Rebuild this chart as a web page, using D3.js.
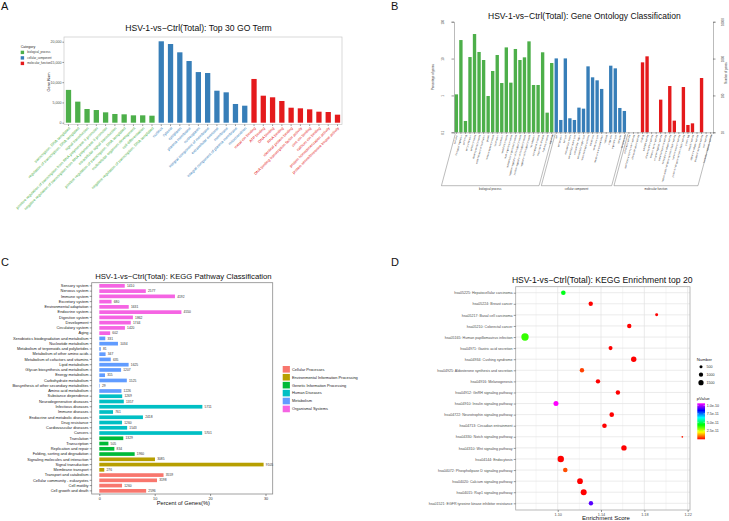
<!DOCTYPE html>
<html><head><meta charset="utf-8">
<script src="https://cdn.jsdelivr.net/npm/d3@7"></script>
<style>
html,body{margin:0;padding:0;background:#fff;}
svg{display:block;font-family:"Liberation Sans",Arial,Helvetica,sans-serif;}
</style></head><body>
<svg id="chart" width="729" height="521"></svg>
<script>
// ================= DATA =================
// Panel A: Top 30 GO terms
const goCategoryNames = ["biological_process","cellular_component","molecular_function"];
const goTerms = [
 "transcription, DNA-templated","regulation of transcription, DNA-templated","signal transduction",
 "positive regulation of transcription from RNA polymerase II promoter",
 "negative regulation of transcription from RNA polymerase II promoter",
 "intracellular signal transduction","positive regulation of transcription, DNA-templated",
 "multicellular organism development","cell differentiation","negative regulation of transcription, DNA-templated",
 "nucleus","cytosol","cytoplasm","plasma membrane","nucleoplasm","integral component of membrane",
 "extracellular exosome","membrane","integral component of plasma membrane","mitochondrion",
 "metal ion binding","ATP binding","DNA binding","RNA binding","identical protein binding",
 "DNA binding transcription factor activity","zinc ion binding","calcium ion binding",
 "protein homodimerization activity","protein serine/threonine kinase activity"];
const goCategory = [
 "biological_process","biological_process","biological_process","biological_process","biological_process",
 "biological_process","biological_process","biological_process","biological_process","biological_process",
 "cellular_component","cellular_component","cellular_component","cellular_component","cellular_component",
 "cellular_component","cellular_component","cellular_component","cellular_component","cellular_component",
 "molecular_function","molecular_function","molecular_function","molecular_function","molecular_function",
 "molecular_function","molecular_function","molecular_function","molecular_function","molecular_function"];
const goGeneNum = [8100,5200,3380,3130,2560,2150,2070,1820,1820,1730,
 20100,19430,17380,15230,12500,12270,7900,7500,4620,4200,
 10800,6670,6270,5360,3700,3550,3300,2720,2640,1980];
const goYTicks = [0,5000,10000,15000,20000];

// Panel B: GO classification (level 2)
const classGroupNames = ["biological process","cellular component","molecular function"];
const classTerms = [
 "behavior","biological regulation","cell killing","cell proliferation","cellular process",
 "developmental process","establishment of localization","growth","immune system process","localization",
 "locomotion","metabolic process","multi-organism process","multicellular organismal process",
 "negative regulation of biological process","positive regulation of biological process",
 "regulation of biological process","reproduction","reproductive process","response to stimulus",
 "rhythmic process","signaling",
 "cell","cell junction","cell part","extracellular matrix","extracellular matrix part","extracellular region",
 "extracellular region part","macromolecular complex","membrane","membrane part","membrane-enclosed lumen",
 "nucleoid","organelle","organelle part","synapse","synapse part",
 "antioxidant activity","auxiliary transport protein activity","chemoattractant activity","binding",
 "catalytic activity","chemorepellent activity","electron carrier activity","enzyme regulator activity",
 "metallochaperone activity","molecular transducer activity","nucleic acid binding transcription factor activity",
 "nutrient reservoir activity","protein binding transcription factor activity","protein tag","receptor activity",
 "signal transducer activity","structural molecule activity","toxin activity","translation regulator activity"];
const classGroup = [
 "biological process","biological process","biological process","biological process","biological process",
 "biological process","biological process","biological process","biological process","biological process",
 "biological process","biological process","biological process","biological process","biological process",
 "biological process","biological process","biological process","biological process","biological process",
 "biological process","biological process",
 "cellular component","cellular component","cellular component","cellular component","cellular component",
 "cellular component","cellular component","cellular component","cellular component","cellular component",
 "cellular component","cellular component","cellular component","cellular component","cellular component",
 "cellular component",
 "molecular function","molecular function","molecular function","molecular function","molecular function",
 "molecular function","molecular function","molecular function","molecular function","molecular function",
 "molecular function","molecular function","molecular function","molecular function","molecular function",
 "molecular function","molecular function","molecular function","molecular function"];
const classPercent = [1.07,31.8,0.203,11.0,46.3,15.1,9.14,0.966,4.60,12.5,2.17,20.1,2.22,18.2,9.14,10.8,29.3,1.92,1.92,14.8,0.341,7.58,
 10.1,0.216,10.1,0.240,0.216,0.467,0.438,6.15,3.10,2.57,1.50,0,6.41,5.43,0.457,0.379,
 0,0,0,7.90,11.5,0,0,0.769,0,1.80,0.207,0,1.69,0.158,0.175,0,2.97,0,0];
const classLeftTicks = [0.1,1,10,100];
const classRightTicks = [10,100,1000,10000];

// Panel C: KEGG pathway classification
const keggClassNames = ["Cellular Processes","Environmental Information Processing","Genetic Information Processing","Human Diseases","Metabolism","Organismal Systems"];
const keggPathways = ["Sensory system","Nervous system","Immune system","Excretory system","Environmental adaptation",
 "Endocrine system","Digestive system","Development","Circulatory system","Aging",
 "Xenobiotics biodegradation and metabolism","Nucleotide metabolism","Metabolism of terpenoids and polyketides",
 "Metabolism of other amino acids","Metabolism of cofactors and vitamins","Lipid metabolism",
 "Glycan biosynthesis and metabolism","Energy metabolism","Carbohydrate metabolism",
 "Biosynthesis of other secondary metabolites","Amino acid metabolism",
 "Substance dependence","Neurodegenerative diseases","Infectious diseases","Immune diseases",
 "Endocrine and metabolic diseases","Drug resistance","Cardiovascular diseases","Cancers",
 "Translation","Transcription","Replication and repair","Folding, sorting and degradation",
 "Signaling molecules and interaction","Signal transduction","Membrane transport",
 "Transport and catabolism","Cellular community - eukaryotes","Cell motility","Cell growth and death"];
const keggClass = [
 "Organismal Systems","Organismal Systems","Organismal Systems","Organismal Systems","Organismal Systems",
 "Organismal Systems","Organismal Systems","Organismal Systems","Organismal Systems","Organismal Systems",
 "Metabolism","Metabolism","Metabolism","Metabolism","Metabolism","Metabolism","Metabolism","Metabolism",
 "Metabolism","Metabolism","Metabolism",
 "Human Diseases","Human Diseases","Human Diseases","Human Diseases","Human Diseases","Human Diseases",
 "Human Diseases","Human Diseases",
 "Genetic Information Processing","Genetic Information Processing","Genetic Information Processing","Genetic Information Processing",
 "Environmental Information Processing","Environmental Information Processing","Environmental Information Processing",
 "Cellular Processes","Cellular Processes","Cellular Processes","Cellular Processes"];
const keggCounts = [1410,2577,4192,680,1631,4550,1862,1744,1420,602,
 331,1034,81,347,635,1625,1207,315,1525,29,1226,
 1269,1357,5711,761,2418,1260,1543,5701,
 1329,505,834,1960,
 3085,9105,276,
 3559,3198,1260,2596];
const keggTotal = 30700;
const keggXTicks = [0,10,20,30];

// Panel D: KEGG enrichment top 20
const enrichTerms = ["hsa05225: Hepatocellular carcinoma","hsa05224: Breast cancer","hsa05217: Basal cell carcinoma",
 "hsa05210: Colorectal cancer","hsa05165: Human papillomavirus infection","hsa04971: Gastric acid secretion",
 "hsa04934: Cushing syndrome","hsa04925: Aldosterone synthesis and secretion","hsa04916: Melanogenesis",
 "hsa04912: GnRH signaling pathway","hsa04910: Insulin signaling pathway","hsa04722: Neurotrophin signaling pathway",
 "hsa04713: Circadian entrainment","hsa04330: Notch signaling pathway","hsa04310: Wnt signaling pathway",
 "hsa04144: Endocytosis","hsa04072: Phospholipase D signaling pathway","hsa04020: Calcium signaling pathway",
 "hsa04015: Rap1 signaling pathway","hsa01521: EGFR tyrosine kinase inhibitor resistance"];
const enrichScore = [1.1052,1.1305,1.1914,1.1661,1.0698,1.1488,1.1702,1.1224,1.1372,1.1556,
 1.0984,1.1499,1.1432,1.2151,1.1612,1.1028,1.1070,1.1206,1.1240,1.1307];
const enrichNumber = [1160,1060,490,1060,2950,880,1600,1060,1060,1060,1370,1160,1160,160,1600,2240,1160,1780,1970,1060];
const enrichPvalue = [4.45e-11,8e-14,3e-15,5e-14,3.8e-11,2e-15,1e-14,5.3e-12,4e-14,6e-15,
 1.06e-10,2e-14,3e-14,2.1e-12,1e-15,7e-14,6.4e-12,9e-15,4e-15,9.2e-11];
const enrichXTicks = [1.10,1.14,1.18,1.22];
const enrichXMinor = [1.08,1.12,1.16,1.20];
const sizeBreaks = [500,1000,1500];
const pvalueTicks = [2.5e-11,5.0e-11,7.5e-11,1.0e-10];

// ================= DRAWING =================
const svg = d3.select("#chart");
svg.append("rect").attr("width",729).attr("height",521).attr("fill","#fff");

function fitText(t, w){
  const L = t.node().getComputedTextLength();
  const fs = parseFloat(t.attr("font-size"));
  if (L>0) t.attr("font-size", fs*w/L);
}
function styleAxis(g, fs, fill){
  g.selectAll("text").attr("font-size",fs).attr("fill",fill).attr("font-family",null);
  g.selectAll(".tick line").attr("stroke","#333").attr("stroke-width",0.5);
}

// panel letters
svg.selectAll("text.letter").data([["A",1,10],["B",391,10],["C",1,266],["D",391,266]]).join("text")
  .attr("class","letter").attr("x",d=>d[1]).attr("y",d=>d[2]).attr("font-size",11).attr("fill","#111").text(d=>d[0]);

// ---------- Panel A ----------
(function(){
  const aL=64,aR=342,aT=37,aB=124.5;
  const g = svg.append("g");
  const xA = d3.scaleBand().domain(goTerms).range([aL,aR]).paddingInner(0.43).paddingOuter(0.2);
  const yA = d3.scaleLinear().domain([0,20000]).range([122.7,41.7]);
  const colA = d3.scaleOrdinal().domain(goCategoryNames).range(["#4DAF4A","#377EB8","#E41A1C"]);

  const t = g.append("text").attr("x",198.5).attr("y",31.3).attr("text-anchor","middle")
    .attr("font-size",9).attr("fill","#111").text("HSV-1-vs\u2212Ctrl(Total): Top 30 GO Term");
  fitText(t,147);

  g.append("rect").attr("x",aL).attr("y",aT).attr("width",aR-aL).attr("height",aB-aT)
    .attr("fill","none").attr("stroke","#c8c8c8").attr("stroke-width",0.7);

  g.selectAll("rect.bar").data(goTerms).join("rect").attr("class","bar")
    .attr("x",d=>xA(d)).attr("width",xA.bandwidth())
    .attr("y",(d,i)=>yA(goGeneNum[i])).attr("height",(d,i)=>yA(0)-yA(goGeneNum[i]))
    .attr("fill",(d,i)=>colA(goCategory[i]));

  const ay = g.append("g").attr("transform",`translate(${aL},0)`)
    .call(d3.axisLeft(yA).tickValues(goYTicks).tickSize(1.6).tickPadding(1));
  ay.select(".domain").remove();
  styleAxis(ay,3.6,"#4d4d4d");

  const ax = g.append("g").attr("transform",`translate(0,${aB})`)
    .call(d3.axisBottom(xA).tickSize(1.5));
  ax.select(".domain").remove();
  styleAxis(ax,3.8,"#333");
  ax.selectAll(".tick text").attr("x",0).attr("y",0).attr("dy","0.35em")
    .attr("transform","translate(1,3) rotate(-45)").attr("text-anchor","end")
    .attr("fill",(d,i)=>colA(goCategory[goTerms.indexOf(d)]));

  g.append("text").attr("transform","translate(49.5,82) rotate(-90)").attr("text-anchor","middle")
    .attr("font-size",3.9).attr("fill","#222").text("Gene Num");

  // legend
  g.append("text").attr("x",20.7).attr("y",48).attr("font-size",3.6).attr("fill","#222").text("Category");
  const lg = g.selectAll("g.lg").data(goCategoryNames).join("g").attr("class","lg")
    .attr("transform",(d,i)=>`translate(20.7,${50.7+i*5.5})`);
  lg.append("rect").attr("width",3.4).attr("height",3.4).attr("fill",d=>colA(d));
  lg.append("text").attr("x",6.6).attr("y",1.7).attr("dy","0.35em").attr("font-size",2.8).attr("fill","#333").text(d=>d);
})();

// ---------- Panel B ----------
(function(){
  const bL=454,bR=713,bT=21.7,bB=132.3;
  const g = svg.append("g");
  const xB = d3.scaleBand().domain(classTerms).range([bL,bR]).paddingInner(0.26).paddingOuter(0.15);
  const yB = d3.scaleLog().domain([0.1,100]).range([bB,bT]);
  const yBR = d3.scaleLog().domain([10,10000]).range([bB,bT]);
  const colB = d3.scaleOrdinal().domain(classGroupNames).range(["#4DAF4A","#377EB8","#E41A1C"]);

  const t = g.append("text").attr("x",584.4).attr("y",18.7).attr("text-anchor","middle")
    .attr("font-size",9).attr("fill","#111").text("HSV-1-vs\u2212Ctrl(Total): Gene Ontology Classification");
  fitText(t,193);

  const idx = classTerms.map((d,i)=>i).filter(i=>classPercent[i]>0);
  g.selectAll("rect.bar").data(idx).join("rect").attr("class","bar")
    .attr("x",i=>xB(classTerms[i])).attr("width",xB.bandwidth())
    .attr("y",i=>yB(classPercent[i])).attr("height",i=>bB-yB(classPercent[i]))
    .attr("fill",i=>colB(classGroup[i]));

  const al = g.append("g").attr("transform",`translate(${bL},0)`)
    .call(d3.axisLeft(yB).tickValues(classLeftTicks).tickFormat(d=>String(d)).tickSize(2.5).tickPadding(8));
  al.select(".domain").attr("stroke","#777").attr("stroke-width",0.5);
  styleAxis(al,2.8,"#444");
  al.selectAll(".tick text").attr("text-anchor","middle").attr("dy",0)
    .attr("transform",function(){const x=+d3.select(this).attr("x");return `rotate(-90,${x},0)`;});

  const ar = g.append("g").attr("transform",`translate(${bR},0)`)
    .call(d3.axisRight(yBR).tickValues(classRightTicks).tickFormat(d=>String(d)).tickSize(2.5).tickPadding(8));
  ar.select(".domain").attr("stroke","#777").attr("stroke-width",0.5);
  styleAxis(ar,2.8,"#444");
  ar.selectAll(".tick text").attr("text-anchor","middle").attr("dy",0)
    .attr("transform",function(){const x=+d3.select(this).attr("x");return `rotate(-90,${x},0)`;});

  const ax = g.append("g").attr("transform",`translate(0,${bB})`)
    .call(d3.axisBottom(xB).tickSize(1.5));
  ax.select(".domain").attr("stroke","#777").attr("stroke-width",0.5);
  styleAxis(ax,2.4,"#333");
  ax.selectAll(".tick text").attr("x",0).attr("y",0).attr("dy","0.35em")
    .attr("transform","translate(0.6,2.6) rotate(-75)").attr("text-anchor","end");

  g.append("text").attr("transform","translate(434,77) rotate(-90)").attr("text-anchor","middle")
    .attr("font-size",2.8).attr("fill","#333").text("Percentage of genes");
  g.append("text").attr("transform","translate(727,73) rotate(-90)").attr("text-anchor","middle")
    .attr("font-size",2.8).attr("fill","#333").text("Number of genes");

  // group brackets
  const top=134.2, bot=185.7, dx=-(bot-top)/Math.tan(75*Math.PI/180);
  classGroupNames.forEach(name=>{
    const members = classTerms.filter((d,i)=>classGroup[i]===name);
    const x0 = xB(members[0]) - xB.step()*0.1 + 1;
    const x1 = xB(members[members.length-1]) + xB.bandwidth() + xB.step()*0.1 - 1;
    g.append("path").attr("d",`M${x0},${top}L${x0+dx},${bot}L${x1+dx},${bot}L${x1},${top}`)
      .attr("fill","none").attr("stroke","#555").attr("stroke-width",0.4);
    g.append("text").attr("x",(x0+x1)/2+dx).attr("y",190.2).attr("text-anchor","middle")
      .attr("font-size",2.8).attr("fill","#333").text(name);
  });
})();

// ---------- Panel C ----------
(function(){
  const cL=91.7,cR=272.7,cT=282.7,cB=494;
  const g = svg.append("g");
  const yC = d3.scaleBand().domain(keggPathways).range([cT,cB]).paddingInner(0.3).paddingOuter(0.25);
  const xC = d3.scaleLinear().domain([0,30]).range([99.3,265.5]);
  const colC = d3.scaleOrdinal().domain(keggClassNames).range(["#F8766D","#B79F00","#00BA38","#00BFC4","#619CFF","#F564E3"]);
  const pct = keggCounts.map(c=>c/keggTotal*100);

  const t = g.append("text").attr("x",183.4).attr("y",279).attr("text-anchor","middle")
    .attr("font-size",9).attr("fill","#111").text("HSV-1-vs\u2212Ctrl(Total): KEGG Pathway Classification");
  fitText(t,177);

  g.append("rect").attr("x",cL).attr("y",cT).attr("width",cR-cL).attr("height",cB-cT)
    .attr("fill","none").attr("stroke","#8a8a8a").attr("stroke-width",0.8);

  g.selectAll("rect.bar").data(keggPathways).join("rect").attr("class","bar")
    .attr("x",xC(0)).attr("y",d=>yC(d)).attr("height",yC.bandwidth())
    .attr("width",(d,i)=>xC(pct[i])-xC(0)).attr("fill",(d,i)=>colC(keggClass[i]));

  g.selectAll("text.val").data(keggPathways).join("text").attr("class","val")
    .attr("x",(d,i)=>xC(pct[i])+2.2).attr("y",d=>yC(d)+yC.bandwidth()/2).attr("dy","0.35em")
    .attr("font-size",3.3).attr("fill","#333").text((d,i)=>keggCounts[i]);

  const ay = g.append("g").attr("transform",`translate(${cL},0)`)
    .call(d3.axisLeft(yC).tickSize(2).tickPadding(1.2));
  ay.select(".domain").remove();
  styleAxis(ay,3.9,"#1a1a1a");

  const ax = g.append("g").attr("transform",`translate(0,${cB})`)
    .call(d3.axisBottom(xC).tickValues(keggXTicks).tickSize(2).tickPadding(1.2));
  ax.select(".domain").remove();
  styleAxis(ax,3.8,"#333");

  const xt = g.append("text").attr("x",183.3).attr("y",505.4).attr("text-anchor","middle")
    .attr("font-size",6).attr("fill","#111").text("Percent of Genes(%)");
  fitText(xt,53.3);

  const lg = g.selectAll("g.lg").data(keggClassNames).join("g").attr("class","lg")
    .attr("transform",(d,i)=>`translate(282.7,${366+i*7.93})`);
  lg.append("rect").attr("width",7.2).attr("height",6.6).attr("fill",d=>colC(d));
  lg.append("text").attr("x",9.3).attr("y",3.3).attr("dy","0.35em").attr("font-size",3.9).attr("fill","#222").text(d=>d);
})();

// ---------- Panel D ----------
(function(){
  const dL=515.7,dR=690,dT=286.7,dB=510;
  const g = svg.append("g");
  const xD = d3.scaleLinear().domain([1.0612,1.2222]).range([dL,dR]);
  const yD = d3.scalePoint().domain(enrichTerms).range([292.7,503.3]);
  const pExt = d3.extent(enrichPvalue);
  const stops = ["#FF0000","#FFFF00","#00FF00","#00FFFF","#0000FF","#FF00FF"];
  const colD = d3.scaleLinear().domain(stops.map((s,i)=>pExt[0]+(pExt[1]-pExt[0])*i/(stops.length-1))).range(stops);
  const rD = d3.scaleSqrt().domain([0,3000]).range([0,3.7]);

  const t = g.append("text").attr("x",602.2).attr("y",283).attr("text-anchor","middle")
    .attr("font-size",9).attr("fill","#111").text("HSV-1-vs\u2212Ctrl(Total): KEGG Enrichment top 20");
  fitText(t,181);

  // grid
  g.selectAll("line.minor").data(enrichXMinor).join("line").attr("class","minor")
    .attr("x1",d=>xD(d)).attr("x2",d=>xD(d)).attr("y1",dT).attr("y2",dB)
    .attr("stroke","#ededed").attr("stroke-width",0.5);
  g.selectAll("line.major").data(enrichXTicks).join("line").attr("class","major")
    .attr("x1",d=>xD(d)).attr("x2",d=>xD(d)).attr("y1",dT).attr("y2",dB)
    .attr("stroke","#e3e3e3").attr("stroke-width",0.7);
  g.selectAll("line.hy").data(enrichTerms).join("line").attr("class","hy")
    .attr("x1",dL).attr("x2",dR).attr("y1",d=>yD(d)).attr("y2",d=>yD(d))
    .attr("stroke","#e3e3e3").attr("stroke-width",0.7);
  g.append("rect").attr("x",dL).attr("y",dT).attr("width",dR-dL).attr("height",dB-dT)
    .attr("fill","none").attr("stroke","#a8a8a8").attr("stroke-width",0.8);

  g.selectAll("circle.pt").data(enrichTerms).join("circle").attr("class","pt")
    .attr("cx",(d,i)=>xD(enrichScore[i])).attr("cy",d=>yD(d))
    .attr("r",(d,i)=>rD(enrichNumber[i])).attr("fill",(d,i)=>colD(enrichPvalue[i]));

  const ay = g.append("g").attr("transform",`translate(${dL},0)`)
    .call(d3.axisLeft(yD).tickSize(2).tickPadding(1.2));
  ay.select(".domain").remove();
  styleAxis(ay,3.6,"#4d4d4d");

  const ax = g.append("g").attr("transform",`translate(0,${dB})`)
    .call(d3.axisBottom(xD).tickValues(enrichXTicks).tickFormat(d3.format(".2f")).tickSize(2).tickPadding(1));
  ax.select(".domain").remove();
  styleAxis(ax,3.8,"#4d4d4d");

  const xt = g.append("text").attr("x",606).attr("y",520.2).attr("text-anchor","middle")
    .attr("font-size",6).attr("fill","#111").text("Enrichment Score");
  fitText(xt,48);

  // size legend
  g.append("text").attr("x",696.7).attr("y",361).attr("font-size",4.3).attr("fill","#222").text("Number");
  const sl = g.selectAll("g.sl").data(sizeBreaks).join("g").attr("class","sl")
    .attr("transform",(d,i)=>`translate(701,${366.7+i*8})`);
  sl.append("circle").attr("r",d=>rD(d)).attr("fill","#000");
  sl.append("text").attr("x",5.5).attr("dy","0.35em").attr("font-size",3.6).attr("fill","#333").text(d=>d);

  // colour legend
  g.append("text").attr("x",696.7).attr("y",400).attr("font-size",4.3).attr("fill","#222").text("pValue");
  const cbT=403.3, cbB=439.3, cbX=697.3, cbW=7.7;
  const yCb = d3.scaleLinear().domain(pExt).range([cbB,cbT]);
  const grad = svg.append("defs").append("linearGradient").attr("id","pgrad")
    .attr("x1",0).attr("y1",1).attr("x2",0).attr("y2",0);
  d3.range(0,1.0001,0.05).forEach(f=>{
    grad.append("stop").attr("offset",f).attr("stop-color",colD(pExt[0]+(pExt[1]-pExt[0])*f));
  });
  g.append("rect").attr("x",cbX).attr("y",cbT).attr("width",cbW).attr("height",cbB-cbT).attr("fill","url(#pgrad)");
  const cax = g.append("g").attr("transform",`translate(${cbX+cbW},0)`)
    .call(d3.axisRight(yCb).tickValues(pvalueTicks).tickFormat(d3.format(".1e")).tickSize(0).tickPadding(1.8));
  cax.select(".domain").remove();
  styleAxis(cax,3.6,"#333");
  g.selectAll("line.cbt").data(pvalueTicks).join("line").attr("class","cbt")
    .attr("x1",cbX).attr("x2",cbX+1.5).attr("y1",d=>yCb(d)).attr("y2",d=>yCb(d))
    .attr("stroke","#fff").attr("stroke-width",0.4);
  g.selectAll("line.cbt2").data(pvalueTicks).join("line").attr("class","cbt2")
    .attr("x1",cbX+cbW-1.5).attr("x2",cbX+cbW).attr("y1",d=>yCb(d)).attr("y2",d=>yCb(d))
    .attr("stroke","#fff").attr("stroke-width",0.4);
})();
</script>
</body></html>
